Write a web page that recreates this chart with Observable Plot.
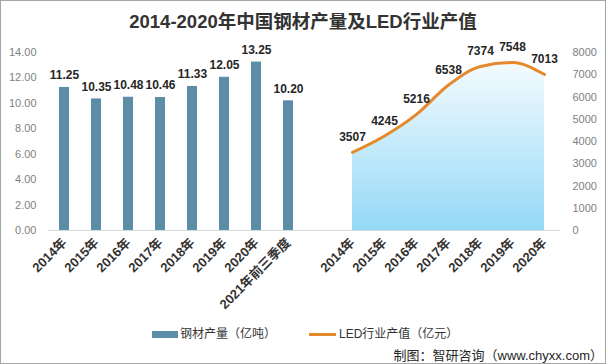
<!DOCTYPE html>
<html>
<head>
<meta charset="utf-8">
<script src="https://cdn.jsdelivr.net/npm/d3@7"></script>
<script src="https://cdn.jsdelivr.net/npm/@observablehq/plot@0.6"></script>
<style>
  html, body { margin: 0; padding: 0; background: #fff; }
  #wrap { position: relative; width: 606px; height: 364px; overflow: hidden; background: #fff;
          font-family: "Liberation Sans", "Noto Sans CJK SC", sans-serif; }
  #frame { position: absolute; left: 0; top: 0; width: 606px; height: 364px; box-sizing: border-box;
           border: 1px solid #a6a6a6; pointer-events: none; }
  #title { position: absolute; left: 0; top: 10px; width: 606px; text-align: center;
           font-size: 18.5px; font-weight: bold; line-height: 24px; color: #333; }
  .plot { position: absolute; left: 0; top: 40px; }
  #legend { position: absolute; left: 0; top: 326px; width: 606px; height: 16px; font-size: 12px; color: #333; }
  .sw { position: absolute; }
  .lt { position: absolute; top: 0; line-height: 16px; white-space: nowrap; }
  #source { position: absolute; right: 3px; top: 349px; font-size: 13px; line-height: 14px; color: #262626; white-space: nowrap; }
</style>
</head>
<body>
<div id="wrap">
  <div id="title">2014-2020年中国钢材产量及LED行业产值</div>
  <div id="p1" class="plot"></div>
  <div id="p2" class="plot"></div>
  <div id="legend">
    <div class="sw" style="left:152px;top:5px;width:26px;height:7px;background:#5b8ea6"></div>
    <div class="lt" style="left:180px">钢材产量（亿吨）</div>
    <div class="sw" style="left:309px;top:7px;width:27px;height:3px;background:#e58a2c"></div>
    <div class="lt" style="left:339px">LED行业产值（亿元）</div>
  </div>
  <div id="source">制图：智研咨询（www.chyxx.com）</div>
  <div id="frame"></div>
</div>
<script>
// ---- data ----
const steelYears = ["2014年","2015年","2016年","2017年","2018年","2019年","2020年","2021年前三季度"];
const steelOutput = [11.25, 10.35, 10.48, 10.46, 11.33, 12.05, 13.25, 10.20];
const ledYears = ["2014年","2015年","2016年","2017年","2018年","2019年","2020年"];
const ledValue = [3507, 4245, 5216, 6538, 7374, 7548, 7013];
const steelTicks = [0, 2, 4, 6, 8, 10, 12, 14];
const ledTicks = [0, 1000, 2000, 3000, 4000, 5000, 6000, 7000, 8000];

// ---- derived tables ----
const steel = steelYears.map((y, i) => ({key: "A|" + y, value: steelOutput[i]}));
const led = ledYears.map((y, i) => ({key: "B|" + y, value: ledValue[i]}));
const xDomain = [...steel.map(d => d.key), "gap", ...led.map(d => d.key)];
const xLabel = d => (d.includes("|") ? d.split("|")[1] : "");

const W = 606, H = 280;
const common = {
  width: W, height: H, marginTop: 12, marginBottom: 90, marginLeft: 48, marginRight: 46,
  style: {fontFamily: "'Liberation Sans','Noto Sans CJK SC',sans-serif", background: "transparent", overflow: "visible"}
};
const xOpts = {type: "band", domain: xDomain, paddingInner: 0.6875, paddingOuter: 0.34375, align: 0.5};

const p1 = Plot.plot({
  ...common,
  x: {...xOpts, axis: null},
  y: {domain: [0, 14], axis: null},
  marks: [
    Plot.axisY(steelTicks, {anchor: "left", tickSize: 0, tickPadding: 12, tickFormat: d3.format(".2f"),
      fill: "#7f7f7f", fontSize: 11, label: null}),
    Plot.barY(steel, {x: "key", y: "value", fill: "#5b8ea6"}),
    Plot.ruleY([0], {stroke: "#d9d9d9", strokeWidth: 1}),
    Plot.text(steel, {x: "key", y: "value", text: d => d.value.toFixed(2), dy: -12,
      fontWeight: "bold", fontSize: 12, fill: "#262626"}),
    Plot.axisX({anchor: "bottom", tickSize: 0, tickPadding: 10, tickRotate: -45, tickFormat: xLabel,
      fontWeight: "bold", fontSize: 13, fill: "#333", label: null})
  ]
});
document.getElementById("p1").appendChild(p1);

const gradDefs = () => {
  const defs = d3.create("svg:defs");
  const g = defs.append("linearGradient").attr("id", "ledGrad")
    .attr("x1", 0).attr("y1", 0).attr("x2", 0).attr("y2", 1);
  g.append("stop").attr("offset", "0%").attr("stop-color", "#f4fbfe");
  g.append("stop").attr("offset", "100%").attr("stop-color", "#94d9f7");
  return defs.node();
};

const p2 = Plot.plot({
  ...common,
  x: {...xOpts, axis: null},
  y: {domain: [0, 8000], axis: null},
  marks: [
    gradDefs,
    Plot.areaY(led, {x: "key", y: "value", fill: "url(#ledGrad)", curve: "monotone-x"}),
    Plot.line(led, {x: "key", y: "value", stroke: "#e58a2c", strokeWidth: 3, curve: "monotone-x"}),
    Plot.text(led, {x: "key", y: "value", text: d => String(d.value), dy: -15,
      fontWeight: "bold", fontSize: 12, fill: "#262626"}),
    Plot.axisY(ledTicks, {anchor: "right", tickSize: 0, tickPadding: 12, tickFormat: d => String(d),
      fill: "#7f7f7f", fontSize: 11, label: null})
  ]
});
document.getElementById("p2").appendChild(p2);
</script>
</body>
</html>
